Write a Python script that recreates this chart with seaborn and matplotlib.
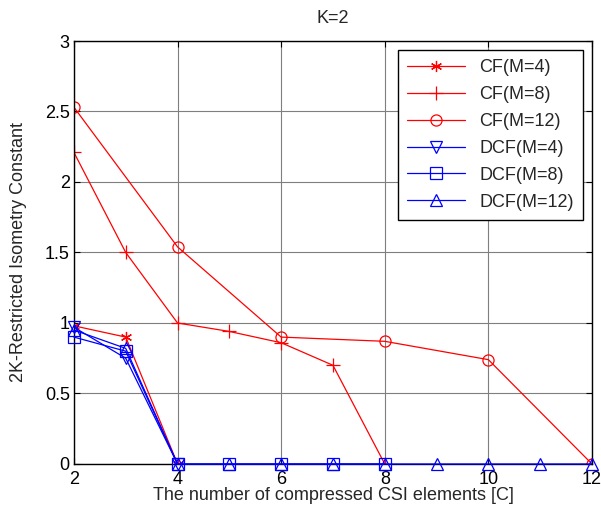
import numpy as np
import pandas as pd
import matplotlib
matplotlib.use("Agg")
import matplotlib.pyplot as plt
import seaborn as sns

# values
cf4_x = [2, 3, 4]
cf4_y = [0.98, 0.90, 0.0]
cf8_x = [2, 3, 4, 5, 6, 7, 8]
cf8_y = [2.21, 1.50, 1.00, 0.94, 0.86, 0.70, 0.0]
cf12_x = [2, 4, 6, 8, 10, 12]
cf12_y = [2.53, 1.54, 0.90, 0.87, 0.74, 0.0]
dcf4_x = [2, 3, 4]
dcf4_y = [0.97, 0.75, 0.0]
dcf8_x = [2, 3, 4, 5, 6, 7, 8]
dcf8_y = [0.90, 0.80, 0.0, 0.0, 0.0, 0.0, 0.0]
dcf12_x = [2, 3, 4, 5, 6, 7, 8, 9, 10, 11, 12]
dcf12_y = [0.95, 0.82, 0.0, 0.0, 0.0, 0.0, 0.0, 0.0, 0.0, 0.0, 0.0]

series = [
    ("CF(M=4)", cf4_x, cf4_y, "red", (6, 2, 0)),
    ("CF(M=8)", cf8_x, cf8_y, "red", "+"),
    ("CF(M=12)", cf12_x, cf12_y, "red", "o"),
    ("DCF(M=4)", dcf4_x, dcf4_y, "blue", "v"),
    ("DCF(M=8)", dcf8_x, dcf8_y, "blue", "s"),
    ("DCF(M=12)", dcf12_x, dcf12_y, "blue", "^"),
]

sns.set_style("ticks")
plt.rcParams['font.family'] = ['Liberation Sans', 'DejaVu Sans']
plt.rcParams['font.size'] = 13

fig = plt.figure(figsize=(6.01, 5.19), dpi=100)
ax = fig.add_axes([0.123, 0.106, 0.862, 0.815])

for name, xs, ys, col, mk in series:
    df = pd.DataFrame({"x": xs, "y": ys})
    sns.lineplot(data=df, x="x", y="y", ax=ax, color=col, marker=mk,
                 markersize=10 if mk == "+" else 8,
                 markerfacecolor="none", markeredgecolor=col, markeredgewidth=0.9,
                 linewidth=0.9, label=name,
                 clip_on=(col == "red"), zorder=3 if col == "blue" else 2)

ax.set_xlim(2, 12)
ax.set_ylim(0, 3)
ax.set_xticks([2, 4, 6, 8, 10, 12])
ax.set_yticks([0, 0.5, 1, 1.5, 2, 2.5, 3])
ax.set_yticklabels(["0", "0.5", "1", "1.5", "2", "2.5", "3"])
ax.grid(True, color="#7f7f7f", linewidth=0.8)
ax.tick_params(direction="in", top=True, right=True, length=4, labelsize=13, colors="black")
ax.tick_params(axis="x", pad=5)
ax.tick_params(axis="y", pad=3)
for sp in ax.spines.values():
    sp.set_visible(True)
    sp.set_color("black")
    sp.set_linewidth(1.0)

ax.set_title("K=2", fontsize=13, pad=13)
ax.set_xlabel("The number of compressed CSI elements [C]", fontsize=13, labelpad=-1)
ax.set_ylabel("2K-Restricted Isometry Constant", fontsize=13, labelpad=13)

leg = ax.legend(loc="upper right", fontsize=13, frameon=True, fancybox=False,
                edgecolor="black", framealpha=1, handlelength=3.2,
                borderaxespad=0.5, labelspacing=0.55, borderpad=0.5)
leg.get_frame().set_linewidth(1.0)

plt.savefig("out.png", dpi=100)
